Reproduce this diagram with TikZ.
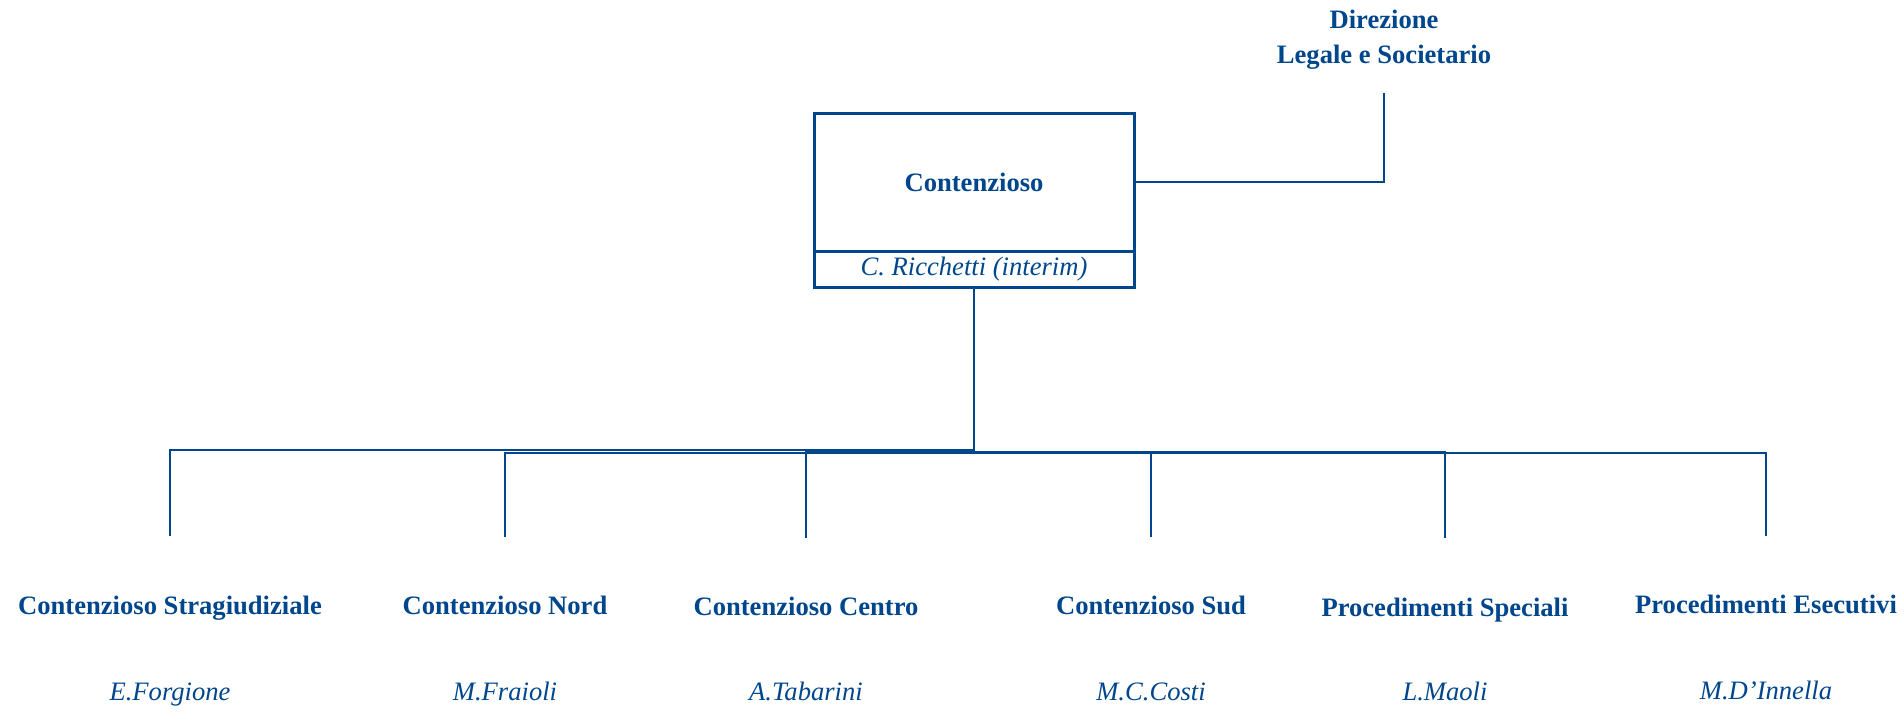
\documentclass[tikz,border=0pt]{standalone}
\usepackage{fontspec}
\setmainfont{Liberation Serif}
\definecolor{cblue}{RGB}{0,70,140}
\begin{document}
\begin{tikzpicture}[x=0.5pt,y=-0.5pt,
  every node/.style={text=cblue, inner sep=0pt, font=\fontsize{13.3}{17.5}\selectfont},
  boxpart/.style={draw=cblue, line width=1.5pt, minimum width=160pt},
  ttl/.style={anchor=base, font=\fontsize{13.3}{17.5}\selectfont\bfseries},
  who/.style={anchor=base, font=\fontsize{13.3}{17.5}\selectfont\itshape},
  conn/.style={draw=cblue, line width=1pt}]
\useasboundingbox (0,0) rectangle (1904,714);
% head unit
\node[align=center, anchor=north, font=\fontsize{13.3}{17.5}\selectfont\bfseries] (dir) at (1384,10) {Direzione\\Legale e Societario};
\node[boxpart, minimum height=69pt, font=\fontsize{13.3}{17.5}\selectfont\bfseries] (box) at (974,182) {Contenzioso};
\node[boxpart, minimum height=18pt, font=\fontsize{13.3}{17.5}\selectfont\itshape] (rich) at (974,269) {C. Ricchetti (interim)};
\coordinate (dtop) at (1384,93);
\draw[conn] (box.east) -| (dtop);
% children
\node[ttl] (t1) at (170,614) {Contenzioso Stragiudiziale};
\node[ttl] (t2) at (505,614) {Contenzioso Nord};
\node[ttl] (t3) at (806,615) {Contenzioso Centro};
\node[ttl] (t4) at (1151,614) {Contenzioso Sud};
\node[ttl] (t5) at (1445,616) {Procedimenti Speciali};
\node[ttl] (t6) at (1766,613) {Procedimenti Esecutivi};
\node[who] (n1) at (170,700) {E.Forgione};
\node[who] (n2) at (505,700) {M.Fraioli};
\node[who] (n3) at (806,700) {A.Tabarini};
\node[who] (n4) at (1151,700) {M.C.Costi};
\node[who] (n5) at (1445,700) {L.Maoli};
\node[who] (n6) at (1766,699) {M.D’Innella};
% bus coordinates
\coordinate (b1) at (170,450);
\coordinate (b2) at (505,453);
\coordinate (b3) at (806,452);
\coordinate (b4) at (1151,453);
\coordinate (b5) at (1445,452);
\coordinate (b6) at (1766,453);
\coordinate (c1) at (170,536);
\coordinate (c2) at (505,537);
\coordinate (c3) at (806,538);
\coordinate (c4) at (1151,537);
\coordinate (c5) at (1445,538);
\coordinate (c6) at (1766,536);
\foreach \i in {1,...,6} {
  \draw[conn] (rich.south) |- (b\i) -- (c\i);
}
\end{tikzpicture}
\end{document}
